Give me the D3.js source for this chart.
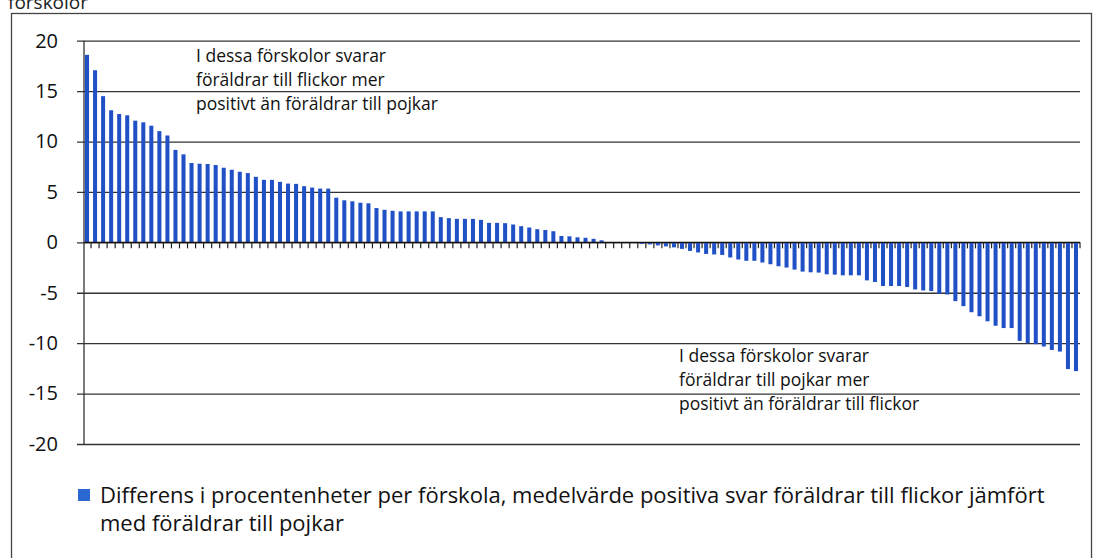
<!DOCTYPE html>
<html>
<head>
<meta charset="utf-8">
<script src="https://cdn.jsdelivr.net/npm/d3@7"></script>
<style>
  body { margin: 0; background: #fff; }
  svg { display: block; font-family: "Open Sans", sans-serif; }
</style>
</head>
<body>
<svg id="chart" width="1096" height="558"></svg>
<script>
// differens i procentenheter per förskola (sorterad)
const values = [
  18.6, 17.07, 14.5, 13.1, 12.73, 12.6, 12.07, 11.9, 11.57, 11.03,
  10.6, 9.17, 8.73, 7.87, 7.8, 7.77, 7.67, 7.4, 7.2, 7.0,
  6.87, 6.5, 6.2, 6.2, 6.0, 5.83, 5.8, 5.57, 5.43, 5.33,
  5.33, 4.43, 4.17, 4.07, 3.93, 3.87, 3.4, 3.23, 3.13, 3.07,
  3.07, 3.07, 3.07, 3.07, 2.5, 2.4, 2.33, 2.33, 2.33, 2.23,
  1.93, 1.93, 1.9, 1.77, 1.6, 1.47, 1.3, 1.23, 1.1, 0.63,
  0.6, 0.5, 0.45, 0.35, 0.2, 0, 0, 0, -0.05, -0.15,
  -0.2, -0.3, -0.4, -0.5, -0.65, -0.85, -1.0, -1.15, -1.2, -1.25,
  -1.5, -1.7, -1.83, -1.83, -2.0, -2.17, -2.37, -2.5, -2.7, -2.9,
  -2.97, -3.0, -3.17, -3.2, -3.27, -3.27, -3.27, -3.77, -3.93, -4.33,
  -4.33, -4.33, -4.43, -4.67, -4.77, -4.83, -5.1, -5.17, -5.83, -6.33,
  -6.93, -7.33, -7.83, -8.27, -8.5, -8.5, -9.77, -10.0, -10.1, -10.33,
  -10.67, -10.83, -12.57, -12.77
];
const schools = values.map((d, i) => "F" + (i + 1));
const yTicks = [20, 15, 10, 5, 0, -5, -10, -15, -20];
const upperNote = ["I dessa förskolor svarar", "föräldrar till flickor mer", "positivt än föräldrar till pojkar"];
const lowerNote = ["I dessa förskolor svarar", "föräldrar till pojkar mer", "positivt än föräldrar till flickor"];
const legendLines = [
  "Differens i procentenheter per förskola, medelvärde positiva svar föräldrar till flickor jämfört",
  "med föräldrar till pojkar"
];

const barColor = "#1f50c6";
const lineColor = "#333";

let svg = d3.select("#chart");

svg.append("rect").attr("width", 1096).attr("height", 558).attr("fill", "#fff");

// cut-off title from the page above
svg.append("text")
  .attr("x", 8).attr("y", 9)
  .attr("font-size", 19).attr("fill", "#222")
  .text("förskolor");

// outer frame
svg.append("rect")
  .attr("x", 11.5).attr("y", 13.5)
  .attr("width", 1080).attr("height", 570)
  .attr("fill", "none").attr("stroke", "#444").attr("stroke-width", 1.3);

let plotLeft = 83, plotRight = 1080, plotTop = 40.7, plotBottom = 444;

let x = d3.scaleBand()
  .domain(schools)
  .range([plotLeft, plotRight])
  .paddingInner(0.5)
  .paddingOuter(0.25);

let y = d3.scaleLinear().domain([-20, 20]).range([plotBottom, plotTop]);

// gridlines + y labels
let yAxis = svg.append("g")
  .attr("class", "axis y_axis")
  .attr("transform", "translate(" + 84 + ",0)")
  .call(d3.axisLeft(y).tickValues(yTicks).tickSize(-(plotRight - 84)).tickPadding(26).tickFormat(function (d) {
    return String(d);
  }));

yAxis.select(".domain").remove();
yAxis.selectAll(".tick line")
  .attr("x1", -7)
  .attr("stroke", lineColor)
  .attr("stroke-width", 1.3);
yAxis.selectAll(".tick text")
  .attr("font-size", 20)
  .attr("font-family", "Open Sans, sans-serif")
  .attr("fill", "#111");

// vertical axis line
svg.append("line")
  .attr("x1", 84).attr("x2", 84)
  .attr("y1", y(20)).attr("y2", y(-20))
  .attr("stroke", lineColor).attr("stroke-width", 1.3);

// bars
svg.selectAll(".bar")
  .data(values)
  .enter()
  .append("rect")
  .attr("class", "bar")
  .attr("x", function (d, i) {
    return x(schools[i]);
  })
  .attr("width", x.bandwidth())
  .attr("y", function (d) {
    return y(Math.max(0, d));
  })
  .attr("height", function (d) {
    return Math.abs(y(d) - y(0));
  })
  .attr("fill", barColor);

// category ticks between the bars (Excel style)
let step = x.step();
svg.selectAll(".ctick")
  .data(schools)
  .enter()
  .append("line")
  .attr("class", "ctick")
  .attr("x1", function (d) {
    return x(d) + x.bandwidth() / 2 + step / 2;
  })
  .attr("x2", function (d) {
    return x(d) + x.bandwidth() / 2 + step / 2;
  })
  .attr("y1", y(0))
  .attr("y2", y(0) + 6)
  .attr("stroke", "#222")
  .attr("stroke-width", 1.2);

// zero line on top
svg.append("line")
  .attr("x1", 84).attr("x2", plotRight)
  .attr("y1", y(0)).attr("y2", y(0))
  .attr("stroke", "#111").attr("stroke-width", 1.4);

// annotations
function note(lines, x0, y0) {
  svg.append("g").selectAll("text")
    .data(lines)
    .enter()
    .append("text")
    .attr("x", x0)
    .attr("y", function (d, i) {
      return y0 + i * 24;
    })
    .attr("font-size", 17.5)
    .attr("fill", "#111")
    .text(function (d) {
      return d;
    });
}
note(upperNote, 196, 62);
note(lowerNote, 679, 362);

// legend
svg.append("rect")
  .attr("x", 78).attr("y", 489)
  .attr("width", 12).attr("height", 12)
  .attr("fill", "#2b68d2");

svg.append("g").selectAll("text")
  .data(legendLines)
  .enter()
  .append("text")
  .attr("x", 100)
  .attr("y", function (d, i) {
    return 503 + i * 28;
  })
  .attr("font-size", 22)
  .attr("fill", "#111")
  .text(function (d) {
    return d;
  });
</script>
</body>
</html>
